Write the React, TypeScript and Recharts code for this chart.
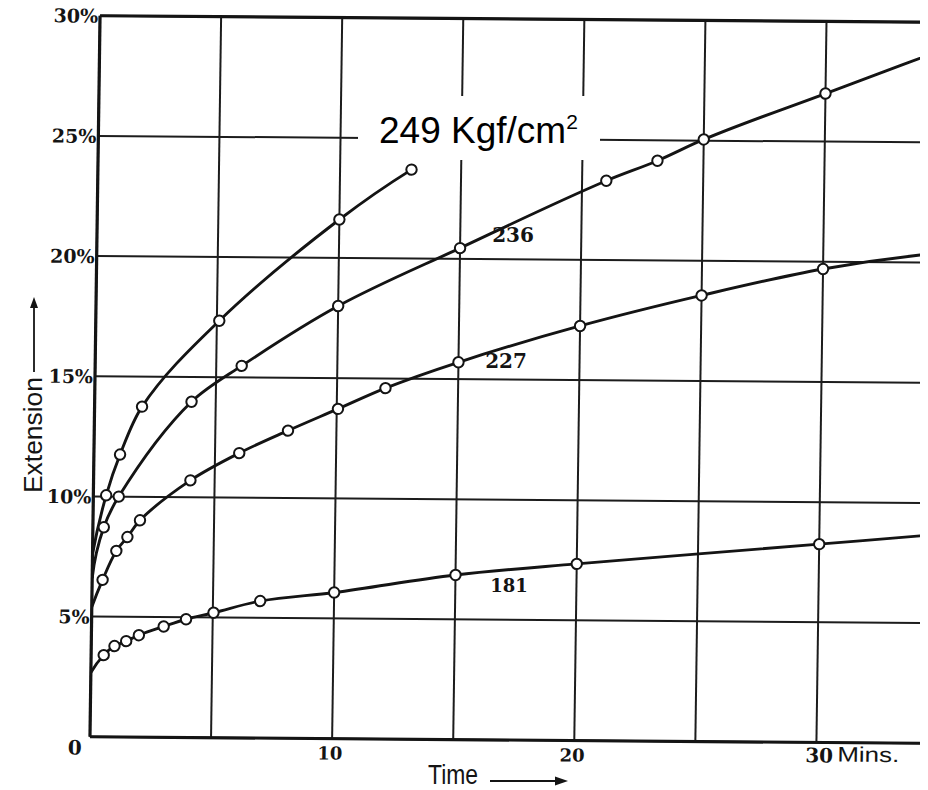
import React from 'react';
import { LineChart, Line, XAxis, YAxis, CartesianGrid, ReferenceLine } from 'recharts';

// Time (minutes) and extension (%) readings for each stress level (Kgf/cm²)
const T249 = [0, 0.53, 1.08, 1.96, 5.1, 10.0, 12.95];
const E249 = [7.6, 10.05, 11.75, 13.75, 17.35, 21.6, 23.7];

const T236 = [0, 0.45, 1.05, 4.0, 6.05, 10.0, 15.0, 21.0, 23.1, 25.0, 30.0, 34.4];
const E236 = [6.6, 8.72, 10.0, 13.97, 15.48, 18.0, 20.45, 23.3, 24.15, 25.05, 27.0, 28.7];

const T227 = [0, 0.43, 0.98, 1.43, 1.94, 4.0, 6.0, 8.0, 10.05, 12.0, 15.0, 20.0, 25.0, 30.0, 34.4];
const E227 = [5.4, 6.53, 7.74, 8.32, 9.02, 10.7, 11.85, 12.8, 13.72, 14.6, 15.7, 17.25, 18.56, 19.7, 20.36];

const T181 = [0, 0.52, 0.96, 1.44, 1.96, 2.98, 3.9, 5.03, 6.95, 10.0, 15.0, 20.0, 30.0, 34.4];
const E181 = [2.67, 3.4, 3.78, 3.99, 4.24, 4.61, 4.92, 5.2, 5.7, 6.08, 6.85, 7.35, 8.25, 8.65];

const X_TICKS = [0, 5, 10, 15, 20, 25, 30];
const Y_TICKS = [0, 5, 10, 15, 20, 25, 30];
const X_MAX = 34.4;

const build = (ts: number[], es: number[]) =>
  ts.map((t, i) => ({ t, e: es[i], m: t > 0 && t < X_MAX }));

const d249 = build(T249, E249);
const d236 = build(T236, E236);
const d227 = build(T227, E227);
const d181 = build(T181, E181);

const INK = '#141414';
const NUM_FONT = '"DejaVu Serif", "Liberation Serif", serif';
const SANS = '"Liberation Sans", Arial, sans-serif';

// Smooth curve through the points (chord-bisector tangents, cubic Bezier segments)
const smoothCurve: any = (context: any) => {
  let pts: number[][] = [];
  const unit = (v: number[]) => {
    const l = Math.hypot(v[0], v[1]) || 1;
    return [v[0] / l, v[1] / l];
  };
  const dir = (a: number[], b: number[]) => unit([b[0] - a[0], b[1] - a[1]]);
  return {
    areaStart() {},
    areaEnd() {},
    lineStart() {
      pts = [];
    },
    point(x: number, y: number) {
      pts.push([+x, +y]);
    },
    lineEnd() {
      const n = pts.length;
      if (!n) return;
      context.moveTo(pts[0][0], pts[0][1]);
      if (n === 1) return;
      if (n === 2) {
        context.lineTo(pts[1][0], pts[1][1]);
        return;
      }
      const T: number[][] = [];
      for (let i = 1; i < n - 1; i++) {
        const a = dir(pts[i - 1], pts[i]);
        const b = dir(pts[i], pts[i + 1]);
        T[i] = unit([a[0] + b[0], a[1] + b[1]]);
      }
      const d0 = dir(pts[0], pts[1]);
      T[0] = unit([2 * d0[0] - T[1][0], 2 * d0[1] - T[1][1]]);
      const dn = dir(pts[n - 2], pts[n - 1]);
      T[n - 1] = unit([2 * dn[0] - T[n - 2][0], 2 * dn[1] - T[n - 2][1]]);
      for (let i = 0; i < n - 1; i++) {
        const p = pts[i];
        const q = pts[i + 1];
        const L = Math.hypot(q[0] - p[0], q[1] - p[1]) / 3;
        context.bezierCurveTo(
          p[0] + T[i][0] * L,
          p[1] + T[i][1] * L,
          q[0] - T[i + 1][0] * L,
          q[1] - T[i + 1][1] * L,
          q[0],
          q[1]
        );
      }
    },
  };
};

const Dot = (props: any) => {
  const { cx, cy, payload, index } = props;
  if (!payload || !payload.m) return <g key={`n${index}`} />;
  return <circle key={`d${index}`} cx={cx} cy={cy} r={5.2} fill="#fff" stroke={INK} strokeWidth={2} />;
};

const XTick = (props: any) => {
  const { x, y, payload } = props;
  const v = payload.value;
  if (v === 0) {
    return (
      <text x={x - 15} y={y + 18} textAnchor="middle" fontFamily={NUM_FONT} fontWeight="bold" fontSize={20} fill={INK}>0</text>
    );
  }
  if (v === 10 || v === 20) {
    return (
      <text x={x - 2} y={y + 21} textAnchor="middle" fontFamily={NUM_FONT} fontWeight="bold" fontSize={18} fill={INK}>{String(v)}</text>
    );
  }
  if (v === 30) {
    return (
      <g>
        <text x={x - 11} y={y + 20} fontFamily={NUM_FONT} fontWeight="bold" fontSize={20} fill={INK}>30</text>
        <text x={x + 21} y={y + 19} fontFamily={SANS} fontSize={21} fill={INK} textLength={62} lengthAdjust="spacingAndGlyphs">Mins.</text>
      </g>
    );
  }
  return <g />;
};

const YTick = (props: any) => {
  const { x, y, payload } = props;
  const v = payload.value;
  if (v === 0) return <g />;
  return (
    <text x={x - 2} y={y + 7} textAnchor="end" fontFamily={NUM_FONT} fontWeight="bold" fontSize={19} fill={INK}>{`${v}%`}</text>
  );
};

const lineProps = {
  type: smoothCurve,
  dataKey: 'e',
  stroke: INK,
  strokeWidth: 2.9,
  isAnimationActive: false,
  dot: Dot,
  activeDot: false as const,
};

export default function App() {
  return (
    <div style={{ position: 'relative', width: 928, height: 790, margin: '-8px 0 0 -8px', background: '#fff', overflow: 'hidden' }}>
      <div style={{ transform: 'skew(-0.8deg, 0.45deg)', transformOrigin: '511px 380px' }}>
        <LineChart width={928} height={790} margin={{ top: 19, right: 0, bottom: 0, left: 0 }}>
          <CartesianGrid stroke="#1c1c1c" strokeWidth={2} />
          <XAxis
            type="number"
            dataKey="t"
            domain={[0, X_MAX]}
            ticks={X_TICKS}
            interval={0}
            allowDataOverflow
            height={50}
            tickSize={0}
            tickMargin={0}
            tickLine={false}
            axisLine={{ stroke: INK, strokeWidth: 3.2 }}
            tick={XTick}
          />
          <YAxis
            type="number"
            domain={[0, 30]}
            ticks={Y_TICKS}
            interval={0}
            width={95}
            tickSize={0}
            tickMargin={0}
            tickLine={false}
            axisLine={{ stroke: INK, strokeWidth: 3.2 }}
            tick={YTick}
          />
          <ReferenceLine y={30} stroke={INK} strokeWidth={3.2} />
          <Line {...lineProps} data={d181} name="181" />
          <Line {...lineProps} data={d227} name="227" />
          <Line {...lineProps} data={d236} name="236" />
          <Line {...lineProps} data={d249} name="249" />
        </LineChart>
      </div>
      <svg width={928} height={790} style={{ position: 'absolute', left: 0, top: 0, pointerEvents: 'none' }}>
        <text transform="translate(42,493) rotate(-90)" fontFamily={SANS} fontSize={26} fill={INK} textLength={116} lengthAdjust="spacingAndGlyphs">Extension</text>
        <line x1={34} y1={372} x2={34} y2={306} stroke={INK} strokeWidth={1.8} />
        <polygon points="34,297 30,308 38,308" fill={INK} />
        <text x={428} y={784} fontFamily={SANS} fontSize={27} fill={INK} textLength={50} lengthAdjust="spacingAndGlyphs">Time</text>
        <line x1={490} y1={781} x2={558} y2={781} stroke={INK} strokeWidth={2} />
        <polygon points="568,781 555,776.5 555,785.5" fill={INK} />
        <rect x={358} y={96} width={242} height={64} fill="#fff" />
        <text x={379} y={143} fontFamily={SANS} fontSize={37} fill="#000">
          249 Kgf/cm<tspan fontSize={21} dy={-14}>2</tspan>
        </text>
        <text x={513} y={242} textAnchor="middle" fontFamily={NUM_FONT} fontWeight="bold" fontSize={20} fill={INK}>236</text>
        <text x={506} y={368} textAnchor="middle" fontFamily={NUM_FONT} fontWeight="bold" fontSize={20} fill={INK}>227</text>
        <text x={509} y={592} textAnchor="middle" fontFamily={NUM_FONT} fontWeight="bold" fontSize={18} fill={INK}>181</text>
      </svg>
    </div>
  );
}
